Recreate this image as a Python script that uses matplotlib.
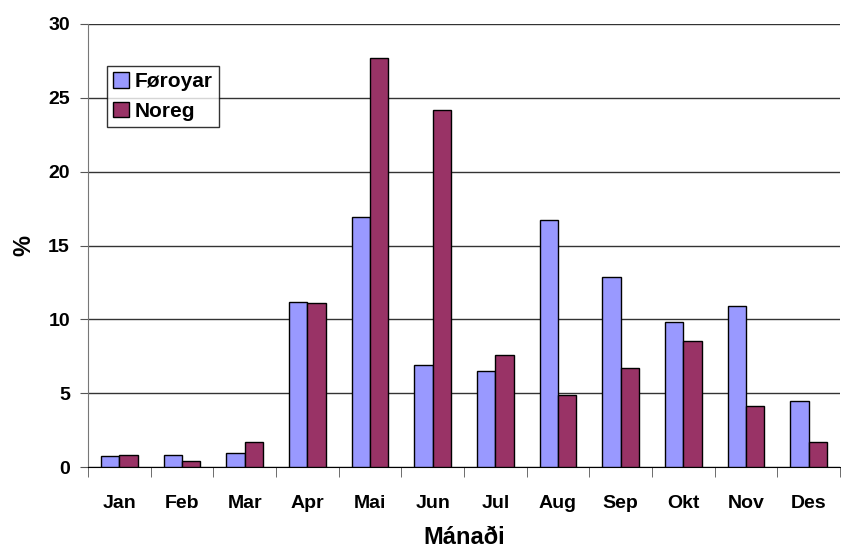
import numpy as np
import matplotlib.pyplot as plt

plt.rcParams['font.family'] = ['Liberation Sans', 'DejaVu Sans']
plt.rcParams['font.weight'] = 'bold'

months = ['Jan', 'Feb', 'Mar', 'Apr', 'Mai', 'Jun', 'Jul', 'Aug', 'Sep', 'Okt', 'Nov', 'Des']
foroyar = [0.75, 0.8, 0.95, 11.2, 16.9, 6.9, 6.5, 16.7, 12.9, 9.8, 10.9, 4.5]
noreg = [0.8, 0.4, 1.7, 11.1, 27.7, 24.2, 7.6, 4.9, 6.7, 8.5, 4.1, 1.7]

fig = plt.figure(figsize=(8.41, 5.5), dpi=100)
ax = fig.add_axes([88 / 841, 1 - 467 / 550, 752 / 841, 443 / 550])

x = np.arange(len(months))
w = 0.29
ax.bar(x - w / 2, foroyar, w, color='#9999FF', edgecolor='black', linewidth=1, label='Føroyar', zorder=3)
ax.bar(x + w / 2, noreg, w, color='#993366', edgecolor='black', linewidth=1, label='Noreg', zorder=3)

ax.set_xlim(-0.5, len(months) - 0.5)
ax.set_ylim(0, 30)
ax.set_yticks([0, 5, 10, 15, 20, 25, 30])
ax.set_yticklabels(['0', '5', '10', '15', '20', '25', '30'], fontsize=14, fontweight='bold')
ax.set_xticks(x)
ax.set_xticklabels(months, fontsize=14, fontweight='bold')
ax.set_xticks(np.arange(-0.5, len(months), 1), minor=True)
ax.tick_params(axis='x', which='major', length=0, pad=20)
ax.tick_params(axis='x', which='minor', length=7, color='#555555')
ax.tick_params(axis='y', length=6, color='#555555', pad=7)

ax.grid(axis='y', color='#333333', linewidth=1, zorder=0)
for s in ['top', 'right']:
    ax.spines[s].set_visible(False)
ax.spines['left'].set_color('#777777')
ax.spines['bottom'].set_color('black')

ax.set_xlabel('Mánaði', fontsize=17, fontweight='bold', labelpad=10)
ax.set_ylabel('%', fontsize=17, fontweight='bold', labelpad=9)

leg = ax.legend(loc='upper left', bbox_to_anchor=(0.025, 0.905), fontsize=15, frameon=True,
                fancybox=False, edgecolor='black', handlelength=0.75, handleheight=0.75,
                handletextpad=0.3, borderpad=0.3, labelspacing=0.5, borderaxespad=0)
leg.get_frame().set_linewidth(1)

fig.savefig('out.png', dpi=100, facecolor='white')
